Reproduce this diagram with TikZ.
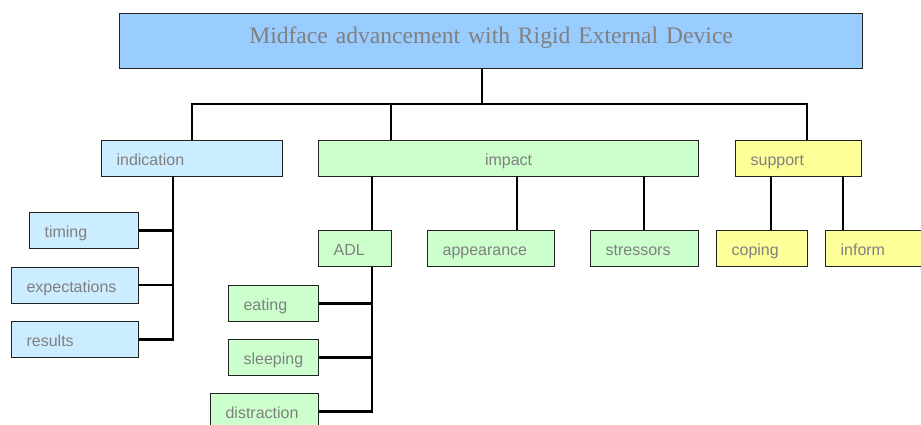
\documentclass[tikz,border=0pt]{standalone}
\usepackage{fontspec}
\setmainfont{Liberation Serif}
\setsansfont{Liberation Sans}
\definecolor{titlefill}{HTML}{99CCFF}
\definecolor{bluefill}{HTML}{CCECFF}
\definecolor{greenfill}{HTML}{CCFFCC}
\definecolor{yellowfill}{HTML}{FFFF99}
\definecolor{textgray}{HTML}{808080}
\definecolor{edgegray}{HTML}{222222}
\tikzset{
  basebox/.style={draw=edgegray, line width=1.2pt, anchor=north west, inner xsep=15pt, inner ysep=0pt,
    minimum height=36pt, text height=14pt, text depth=0pt, align=left, text=textgray,
    font=\fontsize{16pt}{19pt}\selectfont\sffamily},
  bluebox/.style={basebox, fill=bluefill},
  greenbox/.style={basebox, fill=greenfill},
  yellowbox/.style={basebox, fill=yellowfill},
  titlebox/.style={draw=edgegray, line width=1.2pt, fill=titlefill, anchor=north west, inner sep=0pt,
    minimum width=743pt, text width=743pt, minimum height=55pt, text height=17pt, text depth=12pt,
    align=center, text=textgray, font=\fontsize{23.6pt}{28pt}\selectfont\rmfamily},
  conn/.style={draw=black, line width=2.4pt, line join=miter}
}
\begin{document}
\begin{tikzpicture}[x=1pt, y=-1pt]
\useasboundingbox (0,0) rectangle (921,424);
\clip (0,0) rectangle (921,424);
% nodes
\node[titlebox] (title) at (119,13) {Midface advancement with Rigid External Device};
\node[bluebox, text width=151pt] (indication) at (101,140) {indication};
\node[greenbox, text width=350pt, align=center] (impact) at (318,140) {impact};
\node[yellowbox, text width=96pt] (support) at (735,140) {support};
\node[bluebox, text width=79pt] (timing) at (29,212) {timing};
\node[bluebox, text width=97pt] (expectations) at (11,266.5) {expectations};
\node[bluebox, text width=97pt] (results) at (11,321) {results};
\node[greenbox, text width=43pt] (ADL) at (318,230) {ADL};
\node[greenbox, text width=97pt] (appearance) at (427,230) {appearance};
\node[greenbox, text width=78pt] (stressors) at (590,230) {stressors};
\node[yellowbox, text width=61pt] (coping) at (716,230) {coping};
\node[yellowbox, text width=80pt] (inform) at (825,230) {inform};
\node[greenbox, text width=60pt] (eating) at (228,285) {eating};
\node[greenbox, text width=60pt] (sleeping) at (228,339) {sleeping};
\node[greenbox, text width=78pt] (distraction) at (210,393) {distraction};
% coordinates
\coordinate (hub) at (482,104);
\coordinate (d1) at (192,104);
\coordinate (d2) at (391,104);
\coordinate (d3) at (807,104);
\coordinate (t1) at (173,0);
\coordinate (t2) at (372,0);
\coordinate (t3) at (517,0);
\coordinate (t4) at (644,0);
\coordinate (t5) at (771,0);
\coordinate (t6) at (843,0);
% connectors
\draw[conn] (title.south -| hub) -- (hub);
\draw[conn] (indication.north -| d1) -- (d1) -- (d3) -- (support.north -| d3);
\draw[conn] (impact.north -| d2) -- (d2);
\draw[conn] (indication.south -| t1) |- (results.east);
\draw[conn] (timing.east) -- (timing.east -| t1);
\draw[conn] (expectations.east) -- (expectations.east -| t1);
\draw[conn] (impact.south -| t2) -- (ADL.north -| t2);
\draw[conn] (impact.south -| t3) -- (appearance.north -| t3);
\draw[conn] (impact.south -| t4) -- (stressors.north -| t4);
\draw[conn] (support.south -| t5) -- (coping.north -| t5);
\draw[conn] (support.south -| t6) -- (inform.north -| t6);
\draw[conn] (ADL.south -| t2) |- (distraction.east);
\draw[conn] (eating.east) -- (eating.east -| t2);
\draw[conn] (sleeping.east) -- (sleeping.east -| t2);
\end{tikzpicture}
\end{document}
